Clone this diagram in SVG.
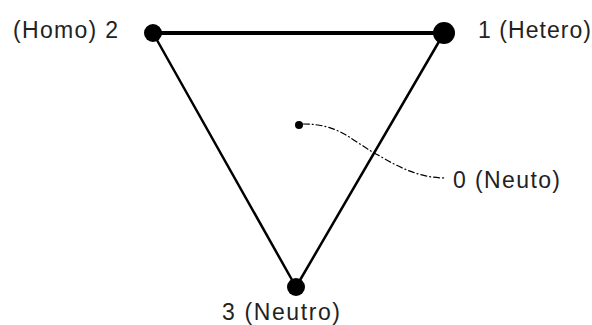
<svg xmlns="http://www.w3.org/2000/svg" width="592" height="325" viewBox="0 0 592 325">
<style>
text{font-family:"Liberation Sans",Arial,sans-serif;font-size:23px;fill:#222}
.e{stroke:#000;fill:none;stroke-linecap:round}
</style>
<rect width="592" height="325" fill="#fff"/>
<g id="connectors">
<line class="e" x1="153" y1="33" x2="444" y2="33" stroke-width="4"/>
<line class="e" x1="153" y1="33" x2="296" y2="287" stroke-width="2.5"/>
<line class="e" x1="444" y1="33" x2="296" y2="287" stroke-width="2.5"/>
<path class="e" d="M303 124 C340 124 350 140 378 155 C400 168 420 178 446 178" stroke-width="1.2" stroke-dasharray="6 3 1 3"/>
</g>
<g id="n2"><circle cx="153" cy="33" r="9"/><text x="13" y="38" textLength="105" lengthAdjust="spacing">(Homo) 2</text></g>
<g id="n1"><circle cx="444" cy="33" r="11"/><text x="478" y="38" textLength="113" lengthAdjust="spacing">1 (Hetero)</text></g>
<g id="n3"><circle cx="296" cy="287" r="9"/><text x="222" y="320" textLength="118" lengthAdjust="spacing">3 (Neutro)</text></g>
<g id="n0"><circle cx="299" cy="125" r="4"/><text x="453" y="188" textLength="107" lengthAdjust="spacing">0 (Neuto)</text></g>
</svg>
